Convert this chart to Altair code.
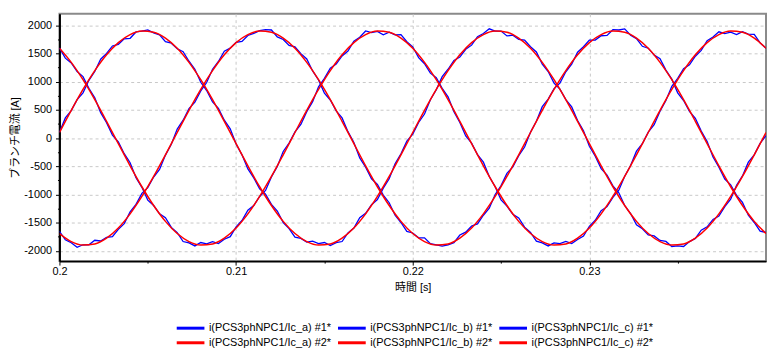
import altair as alt
import pandas as pd

# ---- data ----
# fine time grid (blue, measured) and coarse grid (red, smooth)
t_fine = [round(0.2 + i / 3000, 6) for i in range(121)]
t_coarse = [round(0.2 + i / 1500, 6) for i in range(61)]

names1 = ["i(PCS3phNPC1/Ic_a) #1*", "i(PCS3phNPC1/Ic_b) #1*", "i(PCS3phNPC1/Ic_c) #1*"]
names2 = ["i(PCS3phNPC1/Ic_a) #2*", "i(PCS3phNPC1/Ic_b) #2*", "i(PCS3phNPC1/Ic_c) #2*"]

blue_a = [1599, 1417, 1333, 1181, 1090, 883, 716, 452, 272, 54,
          -69, -277, -437, -701, -873, -1100, -1196, -1343, -1412, -1584,
          -1678, -1834, -1860, -1912, -1852, -1877, -1837, -1870, -1794, -1748,
          -1574, -1462, -1278, -1196, -1035, -928, -691, -502, -237, -89,
          109, 242, 467, 646, 908, 1060, 1241, 1313, 1457, 1544,
          1718, 1789, 1900, 1872, 1892, 1832, 1877, 1830, 1834, 1708,
          1619, 1427, 1318, 1151, 1070, 883, 731, 467, 277, 39,
          -89, -292, -427, -681, -863, -1095, -1206, -1353, -1417, -1579,
          -1673, -1829, -1860, -1912, -1857, -1872, -1832, -1870, -1799, -1738,
          -1564, -1457, -1288, -1216, -1050, -923, -676, -487, -232, -99,
          104, 237, 477, 666, 918, 1060, 1231, 1298, 1452, 1554,
          1728, 1794, 1885, 1852, 1877, 1837, 1887, 1845, 1839, 1688,
          1594]
blue_b = [104, 357, 487, 681, 803, 1025, 1181, 1398, 1502, 1634,
          1663, 1759, 1770, 1882, 1897, 1917, 1867, 1830, 1709, 1683,
          1584, 1532, 1363, 1221, 990, 843, 641, 527, 317, 164,
          -104, -297, -547, -706, -898, -995, -1176, -1293, -1497, -1604,
          -1758, -1779, -1845, -1827, -1872, -1852, -1907, -1855, -1834, -1683,
          -1594, -1412, -1333, -1181, -1090, -888, -721, -457, -277, -54,
          69, 277, 427, 681, 858, 1090, 1221, 1378, 1437, 1574,
          1648, 1799, 1855, 1937, 1897, 1897, 1812, 1825, 1749, 1738,
          1619, 1527, 1313, 1181, 975, 868, 681, 552, 312, 129,
          -144, -322, -542, -656, -848, -970, -1196, -1338, -1537, -1609,
          -1718, -1734, -1815, -1832, -1922, -1912, -1922, -1835, -1779, -1633,
          -1574, -1442, -1383, -1216, -1085, -838, -671, -427, -297, -94,
          44]
blue_c = [-1653, -1804, -1855, -1937, -1892, -1892, -1812, -1825, -1759, -1748,
          -1619, -1517, -1308, -1176, -980, -878, -691, -557, -302, -109,
          159, 317, 522, 636, 838, 985, 1221, 1358, 1542, 1594,
          1698, 1714, 1820, 1857, 1907, 1922, 1917, 1795, 1749, 1643,
          1619, 1497, 1403, 1191, 1030, 798, 676, 482, 357, 114,
          -79, -352, -517, -721, -823, -1010, -1146, -1368, -1497, -1654,
          -1683, -1769, -1770, -1872, -1892, -1917, -1892, -1855, -1719, -1668,
          -1559, -1522, -1368, -1241, -1000, -843, -626, -512, -312, -159,
          104, 297, 557, 691, 878, 975, 1176, 1313, 1522, 1619,
          1738, 1739, 1815, 1822, 1922, 1917, 1937, 1825, 1764, 1628,
          1594, 1472, 1408, 1206, 1045, 803, 666, 472, 352, 124,
          -59, -337, -517, -726, -828, -1015, -1141, -1368, -1497, -1649,
          -1673]

red_a = [1594, 1343, 1035, 681, 297, -99, -492, -863, -1196, -1477,
         -1693, -1835, -1897, -1877, -1774, -1594, -1343, -1035, -681, -297,
         99, 492, 863, 1196, 1477, 1693, 1835, 1897, 1877, 1774,
         1594, 1343, 1035, 681, 297, -99, -492, -863, -1196, -1477,
         -1693, -1835, -1897, -1877, -1774, -1594, -1343, -1035, -681, -297,
         99, 492, 863, 1196, 1477, 1693, 1835, 1897, 1877, 1774,
         1594]
red_b = [99, 492, 863, 1196, 1477, 1693, 1835, 1897, 1877, 1774,
         1594, 1343, 1035, 681, 297, -99, -492, -863, -1196, -1477,
         -1693, -1835, -1897, -1877, -1774, -1594, -1343, -1035, -681, -297,
         99, 492, 863, 1196, 1477, 1693, 1835, 1897, 1877, 1774,
         1594, 1343, 1035, 681, 297, -99, -492, -863, -1196, -1477,
         -1693, -1835, -1897, -1877, -1774, -1594, -1343, -1035, -681, -297,
         99]
red_c = [-1693, -1835, -1897, -1877, -1774, -1594, -1343, -1035, -681, -297,
         99, 492, 863, 1196, 1477, 1693, 1835, 1897, 1877, 1774,
         1594, 1343, 1035, 681, 297, -99, -492, -863, -1196, -1477,
         -1693, -1835, -1897, -1877, -1774, -1594, -1343, -1035, -681, -297,
         99, 492, 863, 1196, 1477, 1693, 1835, 1897, 1877, 1774,
         1594, 1343, 1035, 681, 297, -99, -492, -863, -1196, -1477,
         -1693]

x_ticks = [0.2, 0.205, 0.21, 0.215, 0.22, 0.225, 0.23, 0.235]
y_ticks = list(range(-2000, 2001, 250))

# ---- tables ----
rows1 = []
for name, vals in zip(names1, [blue_a, blue_b, blue_c]):
    for t, v in zip(t_fine, vals):
        rows1.append({"t": t, "value": v, "series": name})
rows2 = []
for name, vals in zip(names2, [red_a, red_b, red_c]):
    for t, v in zip(t_coarse, vals):
        rows2.append({"t": t, "value": v, "series": name})
df1 = pd.DataFrame(rows1)
df2 = pd.DataFrame(rows2)

FONT = "Liberation Sans, Arial, Noto Sans CJK JP, sans-serif"
domain = names1 + names2
rng = ["#0000ff"] * 3 + ["#ff0000"] * 3

x_major = "round(datum.value * 1000) % 10 == 0"
y_major = "datum.value % 500 == 0"

x_enc = alt.X(
    "t:Q",
    scale=alt.Scale(domain=[0.2, 0.24], nice=False, zero=False),
    axis=alt.Axis(
        title="時間 [s]",
        values=x_ticks,
        labelExpr=f"{x_major} ? format(datum.value, '.2~f') : ''",
        tickSize={"condition": {"test": x_major, "value": 4}, "value": 2},
        gridOpacity={"condition": {"test": f"{x_major} && datum.value > 0.201", "value": 1}, "value": 0},
        labelPadding=1,
        labelFlush=False,
        titlePadding=5,
    ),
)
y_enc = alt.Y(
    "value:Q",
    scale=alt.Scale(domain=[-2182, 2205], nice=False, zero=False),
    axis=alt.Axis(
        title="ブランチ電流 [A]",
        values=y_ticks,
        labelExpr=f"{y_major} ? '' + datum.value : ''",
        tickSize={"condition": {"test": y_major, "value": 4}, "value": 2},
        gridOpacity={"condition": {"test": y_major, "value": 1}, "value": 0},
        labelPadding=4,
        labelFlush=False,
        titleX=-44,
        titleBaseline="middle",
    ),
)
color_enc = alt.Color(
    "series:N",
    scale=alt.Scale(domain=domain, range=rng),
    legend=alt.Legend(
        title=None,
        orient="none",
        legendX=124,
        legendY=309,
        direction="horizontal",
        columns=3,
        symbolType="M-2,0H2",
        symbolSize=196,
        symbolStrokeWidth=3,
        labelOffset=10,
        columnPadding=0,
        rowPadding=0,
        labelFontSize=11,
        labelFont=FONT,
        labelColor="#000000",
        padding=0,
        labelLimit=300,
    ),
)

blue = alt.Chart(df1).mark_line(strokeWidth=1.3, clip=True).encode(
    x=x_enc, y=y_enc, color=color_enc
)
red = alt.Chart(df2).mark_line(strokeWidth=1.5, interpolate="monotone", clip=True).encode(
    x=x_enc, y=y_enc, color=color_enc
)

chart = (
    alt.layer(blue, red)
    .properties(
        width=714,
        height=250,
        autosize=alt.AutoSizeParams(type="none"),
        padding={"left": 52, "top": 4, "right": 1, "bottom": 88},
    )
    .configure_view(stroke="#8a8a8a", strokeWidth=2)
    .configure_axis(
        labelFont=FONT,
        labelFontSize=11,
        labelColor="#000000",
        titleFont=FONT,
        titleFontSize=11,
        titleFontWeight="normal",
        titleColor="#000000",
        domainColor="#000000",
        domainWidth=2,
        tickColor="#000000",
        tickWidth=1,
        gridColor="#c8c8c8",
        gridDash=[3, 3],
        gridWidth=1,
    )
)

chart.save("out.html", embed_options={"renderer": "svg", "actions": False})
